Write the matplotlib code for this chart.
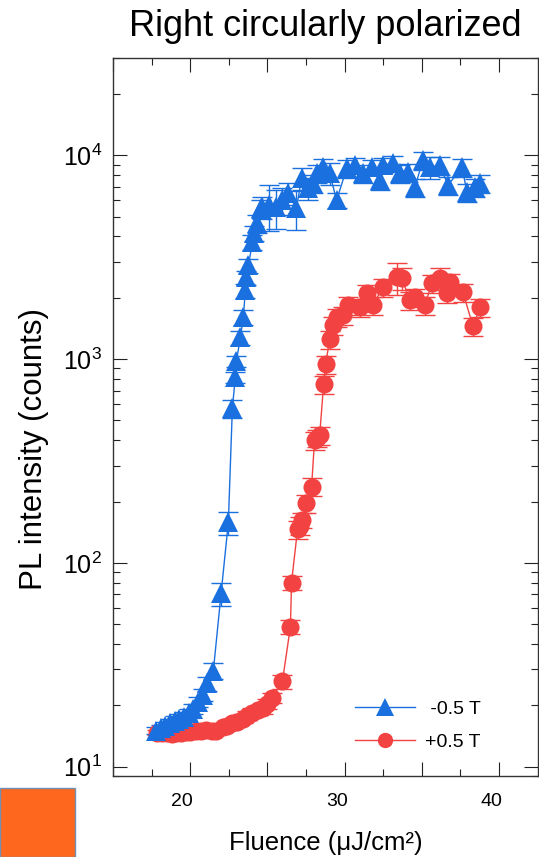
"""
PL intensity vs fluence, right circularly polarized
"""

import numpy as np
import matplotlib
matplotlib.use("Agg")
import matplotlib.pyplot as plt
from matplotlib.lines import Line2D
from matplotlib.patches import Rectangle
from matplotlib.ticker import MultipleLocator, FixedLocator, FuncFormatter, NullFormatter
from matplotlib.transforms import ScaledTranslation

plt.rcParams["font.family"] = ["Liberation Sans", "DejaVu Sans"]

#data: -0.5 T (blue triangles)
fluence_neg = [17.8, 18.1, 18.4, 18.7, 19.0, 19.3, 19.6, 19.9, 20.2, 20.5, 20.8, 21.1, 21.5,
               22.0, 22.47, 22.73, 22.92, 22.99, 23.25, 23.44, 23.57, 23.64, 23.77, 24.03,
               24.16, 24.35, 24.61, 24.68, 25.13, 25.58, 25.97, 26.30, 26.88, 27.21, 27.60,
               27.92, 28.18, 28.57, 29.03, 29.48, 30.13, 30.65, 31.17, 31.75, 32.27, 32.47,
               33.12, 33.57, 34.09, 34.55, 35.06, 35.52, 36.17, 36.69, 37.60, 37.92, 38.44, 38.77]
pl_neg = [15.0, 15.4, 15.9, 16.3, 16.8, 17.2, 17.6, 18.3, 19.2, 20.8, 22.5, 25.6, 29.6,
          70.8, 158, 573, 813, 975, 1278, 1604, 2174, 2518, 2884, 3741,
          4141, 4638, 5498, 5560, 5690, 5560, 6013, 6505, 5498, 7709, 6885,
          7290, 8166, 8735, 8166, 6013, 8630, 8933, 8166, 8735, 7534, 8933,
          9142, 8166, 8257, 6963, 9440, 8735, 8933, 7127, 8735, 6580, 6963, 7290]
relerr_neg = [0.04, 0.04, 0.04, 0.05, 0.05, 0.05, 0.05, 0.05, 0.06, 0.06, 0.07, 0.08, 0.09,
              0.13, 0.13, 0.10, 0.06, 0.06, 0.08, 0.08, 0.08, 0.08, 0.08, 0.08,
              0.08, 0.10, 0.10, 0.12, 0.25, 0.22, 0.15, 0.12, 0.22, 0.12, 0.12,
              0.10, 0.10, 0.10, 0.12, 0.08, 0.10, 0.08, 0.10, 0.08, 0.10, 0.08,
              0.08, 0.10, 0.10, 0.10, 0.10, 0.12, 0.10, 0.10, 0.10, 0.10, 0.10, 0.10]

#data: +0.5 T (red circles)
fluence_pos = [17.86, 18.2, 18.5, 18.8, 19.1, 19.4, 19.7, 20.0, 20.4, 20.7, 21.0, 21.4, 21.7,
               22.1, 22.4, 22.7, 23.0, 23.4, 23.7, 24.0, 24.4, 24.7, 25.0, 25.3, 25.97,
               26.49, 26.56, 26.95, 27.10, 27.27, 27.53, 27.86, 28.05, 28.20, 28.38, 28.64,
               28.77, 29.03, 29.22, 29.48, 29.87, 30.19, 30.97, 31.43, 31.82, 32.47, 33.38,
               33.70, 34.22, 34.55, 35.19, 35.65, 36.17, 36.62, 36.82, 37.66, 38.31, 38.77]
pl_pos = [14.7, 14.6, 14.6, 14.5, 14.6, 14.6, 14.8, 14.8, 14.9, 15.0, 15.2, 15.0, 14.9,
          15.6, 15.9, 16.3, 16.6, 17.2, 17.8, 18.4, 18.9, 19.3, 20.3, 21.8, 26.2,
          48.7, 80, 146, 152, 162, 196, 237, 399, 410, 422, 751,
          942, 1250, 1464, 1603, 1640, 1837, 1795, 2103, 1837, 2250, 2518,
          2490, 1941, 2010, 1837, 2355, 2490, 2103, 2383, 2125, 1449, 1795]
relerr_pos = [0.03, 0.03, 0.03, 0.03, 0.03, 0.03, 0.03, 0.03, 0.03, 0.03, 0.03, 0.03, 0.03,
              0.04, 0.04, 0.04, 0.04, 0.05, 0.05, 0.05, 0.05, 0.06, 0.06, 0.06, 0.08,
              0.08, 0.08, 0.10, 0.10, 0.08, 0.10, 0.10, 0.10, 0.10, 0.10, 0.10,
              0.10, 0.10, 0.10, 0.10, 0.10, 0.10, 0.10, 0.10, 0.10, 0.10, 0.18,
              0.12, 0.10, 0.10, 0.10, 0.10, 0.12, 0.10, 0.10, 0.10, 0.10, 0.10]

labels = [" -0.5 T", "+0.5 T"]
blue = "#1b70df"
red = "#f24242"

fig = plt.figure(figsize=(5.39, 8.57), dpi=100)
ax = fig.add_axes([0.2096, 0.0945, 0.788, 0.8378])

#red first so the blue triangles sit on top
err_pos = np.array(pl_pos) * np.array(relerr_pos)
eb_pos = ax.errorbar(fluence_pos, pl_pos, yerr=err_pos, fmt="o-", color=red, ms=13, lw=1,
                     elinewidth=1, capsize=7, capthick=1)
eb_pos[0].set_markeredgewidth(0)
err_neg = np.array(pl_neg) * np.array(relerr_neg)
eb_neg = ax.errorbar(fluence_neg, pl_neg, yerr=err_neg, fmt="^-", color=blue, ms=14, lw=1,
                     elinewidth=1, capsize=7, capthick=1)
eb_neg[0].set_markeredgewidth(0)

ax.set_yscale("log")
ax.set_xlim(15, 42.5)
ax.set_ylim(9, 30000)

#x ticks: long every 5, short every 2.5, labels at 20/30/40 only
ax.xaxis.set_major_locator(MultipleLocator(5))
ax.xaxis.set_minor_locator(FixedLocator(np.arange(17.5, 42.5, 5)))
ax.xaxis.set_major_formatter(FuncFormatter(lambda v, p: "%d" % v if v in (20, 30, 40) else ""))
ax.yaxis.set_minor_formatter(NullFormatter())

ax.tick_params(which="both", direction="in", top=True, right=True, width=0.8, color="#222222")
ax.tick_params(which="major", length=10)
ax.tick_params(which="minor", length=5)
ax.tick_params(axis="x", labelsize=14, pad=12)
ax.tick_params(axis="y", labelsize=18, pad=8)
for lab in ax.get_xticklabels():
    lab.set_transform(lab.get_transform() + ScaledTranslation(-0.08, 0, fig.dpi_scale_trans))
for sp in ax.spines.values():
    sp.set_linewidth(1)
    sp.set_color("#333333")

ax.set_title("Right circularly polarized", fontsize=26, pad=16)
ax.set_xlabel("Fluence (\u03bcJ/cm\u00b2)", fontsize=18.5, labelpad=15)
ax.set_ylabel("PL intensity (counts)", fontsize=22.5)
ax.yaxis.set_label_coords(-0.15, 0.455)

#legend
handles = [Line2D([], [], color=blue, marker="^", ms=13, lw=1, markeredgewidth=0),
           Line2D([], [], color=red, marker="o", ms=11, lw=1, markeredgewidth=0)]
ax.legend(handles, labels, loc="lower left", bbox_to_anchor=(0.57, 0.035), frameon=False,
          fontsize=14, handlelength=3.1, handletextpad=0.5, borderpad=0, borderaxespad=0,
          labelspacing=0.8)

#orange box in the corner of the original slide
fig.patches.append(Rectangle((0, 0), 75 / 539, 69 / 857, transform=fig.transFigure,
                             facecolor="#fe671e", edgecolor="#6f8fb5", lw=1))

plt.savefig("out.png", dpi=100)
